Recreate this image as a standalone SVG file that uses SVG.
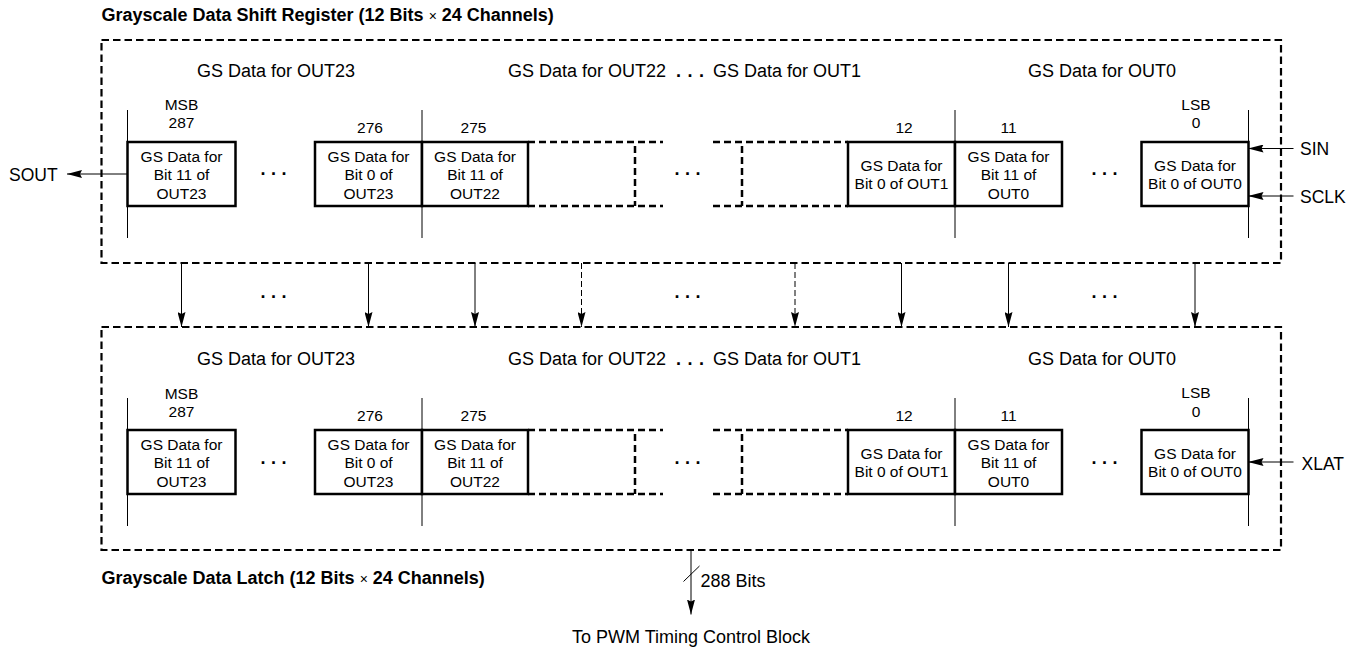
<svg xmlns="http://www.w3.org/2000/svg" width="1364" height="650" viewBox="0 0 1364 650">
<style>
text { font-family: "Liberation Sans", Arial, Helvetica, sans-serif; fill: #000; }
.title { font-size: 18px; font-weight: bold; }
.times { font-weight: normal; font-size: 14px; }
.lbl { font-size: 18px; }
.mid { text-anchor: middle; }
.bx { font-size: 15.5px; text-anchor: middle; }
.num { font-size: 15.5px; text-anchor: middle; }
.side { font-size: 17.5px; }
.dots { font-size: 18px; font-weight: bold; letter-spacing: 5.5px; }
.ldots { font-size: 18px; font-weight: bold; letter-spacing: 6.5px; }
.box { fill: #fff; stroke: #000; stroke-width: 2.5; }
.thin { fill: none; stroke: #000; stroke-width: 1; }
.dash { fill: none; stroke: #000; stroke-width: 2.5; stroke-dasharray: 7 4; }
.outer { fill: none; stroke: #000; stroke-width: 2.2; stroke-dasharray: 7.5 4; }
.conn { fill: none; stroke: #000; stroke-width: 1; marker-end: url(#ah); }
.cdash { stroke-dasharray: 6 3; }
</style>
<defs>
<marker id="ah" markerUnits="userSpaceOnUse" markerWidth="15" markerHeight="8" refX="15" refY="4" orient="auto">
<path d="M0,0 L15,4 L0,8 L2,4 z" fill="#000"/>
</marker>
</defs>

<!-- Shift register block -->
<g id="shift-register">
<text class="title" x="101.5" y="21">Grayscale Data Shift Register (12 Bits <tspan class="times">×</tspan> 24 Channels)</text>
<rect class="outer" x="101.5" y="40" width="1179.5" height="223"/>
<text class="lbl mid" x="276" y="77">GS Data for OUT23</text>
<text class="lbl" x="508" y="77">GS Data for OUT22</text>
<text class="ldots" x="676" y="77">...</text>
<text class="lbl" x="713" y="77">GS Data for OUT1</text>
<text class="lbl mid" x="1102" y="77">GS Data for OUT0</text>
<line class="thin" x1="127.5" y1="110" x2="127.5" y2="238"/>
<line class="thin" x1="422" y1="110" x2="422" y2="238"/>
<line class="thin" x1="955" y1="110" x2="955" y2="238"/>
<line class="thin" x1="1248.5" y1="110" x2="1248.5" y2="238"/>
<text class="num" x="181.5" y="110">MSB</text>
<text class="num" x="181.5" y="128">287</text>
<text class="num" x="370" y="133">276</text>
<text class="num" x="473.5" y="133">275</text>
<text class="num" x="904" y="133">12</text>
<text class="num" x="1008.5" y="133">11</text>
<text class="num" x="1196" y="109.5">LSB</text>
<text class="num" x="1196" y="128">0</text>
<text class="dots" x="260.5" y="174.5">...</text>
<text class="dots" x="674.5" y="174.5">...</text>
<text class="dots" x="1091.5" y="174.5">...</text>
</g>

<g id="sr-bit287">
<rect class="box" x="127.5" y="142" width="108" height="64"/>
<text class="bx" x="181.5" y="162">GS Data for</text>
<text class="bx" x="181.5" y="180.3">Bit 11 of</text>
<text class="bx" x="181.5" y="198.7">OUT23</text>
</g>
<g id="sr-bit276">
<rect class="box" x="315" y="142" width="107" height="64"/>
<text class="bx" x="368.5" y="162">GS Data for</text>
<text class="bx" x="368.5" y="180.3">Bit 0 of</text>
<text class="bx" x="368.5" y="198.7">OUT23</text>
</g>
<g id="sr-bit275">
<rect class="box" x="422" y="142" width="106" height="64"/>
<text class="bx" x="475" y="162">GS Data for</text>
<text class="bx" x="475" y="180.3">Bit 11 of</text>
<text class="bx" x="475" y="198.7">OUT22</text>
</g>
<g id="sr-dashed-cells">
<line class="dash" x1="528" y1="142" x2="663" y2="142"/>
<line class="dash" x1="528" y1="206" x2="663" y2="206"/>
<line class="dash" x1="635" y1="146" x2="635" y2="206"/>
<line class="dash" x1="713" y1="142" x2="848" y2="142"/>
<line class="dash" x1="713" y1="206" x2="848" y2="206"/>
<line class="dash" x1="742" y1="146" x2="742" y2="206"/>
</g>
<g id="sr-bit12">
<rect class="box" x="848" y="142" width="107" height="64"/>
<text class="bx" x="901.5" y="171">GS Data for</text>
<text class="bx" x="901.5" y="188.7">Bit 0 of OUT1</text>
</g>
<g id="sr-bit11">
<rect class="box" x="955" y="142" width="107" height="64"/>
<text class="bx" x="1008.5" y="162">GS Data for</text>
<text class="bx" x="1008.5" y="180.3">Bit 11 of</text>
<text class="bx" x="1008.5" y="198.7">OUT0</text>
</g>
<g id="sr-bit0">
<rect class="box" x="1141.5" y="142" width="107" height="64"/>
<text class="bx" x="1195" y="171">GS Data for</text>
<text class="bx" x="1195" y="188.7">Bit 0 of OUT0</text>
</g>

<g id="sout"><text class="side" x="9" y="180.5">SOUT</text></g>
<g id="sin"><text class="side" x="1300" y="154.5">SIN</text></g>
<g id="sclk"><text class="side" x="1300" y="202.5">SCLK</text></g>
<g id="xlat"><text class="side" x="1301.5" y="469.5">XLAT</text></g>

<!-- Latch block -->
<g id="latch">
<text class="title" x="101.5" y="584">Grayscale Data Latch (12 Bits <tspan class="times">×</tspan> 24 Channels)</text>
<rect class="outer" x="101.5" y="327" width="1179.5" height="223"/>
<text class="lbl mid" x="276" y="364.5">GS Data for OUT23</text>
<text class="lbl" x="508" y="364.5">GS Data for OUT22</text>
<text class="ldots" x="676" y="364.5">...</text>
<text class="lbl" x="713" y="364.5">GS Data for OUT1</text>
<text class="lbl mid" x="1102" y="364.5">GS Data for OUT0</text>
<line class="thin" x1="127.5" y1="398" x2="127.5" y2="526"/>
<line class="thin" x1="422" y1="398" x2="422" y2="526"/>
<line class="thin" x1="955" y1="398" x2="955" y2="526"/>
<line class="thin" x1="1248.5" y1="398" x2="1248.5" y2="526"/>
<text class="num" x="181.5" y="398.5">MSB</text>
<text class="num" x="181.5" y="416.5">287</text>
<text class="num" x="370" y="421">276</text>
<text class="num" x="473.5" y="421">275</text>
<text class="num" x="904" y="421">12</text>
<text class="num" x="1008.5" y="421">11</text>
<text class="num" x="1196" y="398">LSB</text>
<text class="num" x="1196" y="416.5">0</text>
<text class="dots" x="260.5" y="464">...</text>
<text class="dots" x="674.5" y="464">...</text>
<text class="dots" x="1091.5" y="464">...</text>
</g>

<g id="la-bit287">
<rect class="box" x="127.5" y="430" width="108" height="64"/>
<text class="bx" x="181.5" y="450">GS Data for</text>
<text class="bx" x="181.5" y="468.3">Bit 11 of</text>
<text class="bx" x="181.5" y="486.7">OUT23</text>
</g>
<g id="la-bit276">
<rect class="box" x="315" y="430" width="107" height="64"/>
<text class="bx" x="368.5" y="450">GS Data for</text>
<text class="bx" x="368.5" y="468.3">Bit 0 of</text>
<text class="bx" x="368.5" y="486.7">OUT23</text>
</g>
<g id="la-bit275">
<rect class="box" x="422" y="430" width="106" height="64"/>
<text class="bx" x="475" y="450">GS Data for</text>
<text class="bx" x="475" y="468.3">Bit 11 of</text>
<text class="bx" x="475" y="486.7">OUT22</text>
</g>
<g id="la-dashed-cells">
<line class="dash" x1="528" y1="430" x2="663" y2="430"/>
<line class="dash" x1="528" y1="494" x2="663" y2="494"/>
<line class="dash" x1="635" y1="434" x2="635" y2="494"/>
<line class="dash" x1="713" y1="430" x2="848" y2="430"/>
<line class="dash" x1="713" y1="494" x2="848" y2="494"/>
<line class="dash" x1="742" y1="434" x2="742" y2="494"/>
</g>
<g id="la-bit12">
<rect class="box" x="848" y="430" width="107" height="64"/>
<text class="bx" x="901.5" y="459">GS Data for</text>
<text class="bx" x="901.5" y="476.7">Bit 0 of OUT1</text>
</g>
<g id="la-bit11">
<rect class="box" x="955" y="430" width="107" height="64"/>
<text class="bx" x="1008.5" y="450">GS Data for</text>
<text class="bx" x="1008.5" y="468.3">Bit 11 of</text>
<text class="bx" x="1008.5" y="486.7">OUT0</text>
</g>
<g id="la-bit0">
<rect class="box" x="1141.5" y="430" width="107" height="64"/>
<text class="bx" x="1195" y="459">GS Data for</text>
<text class="bx" x="1195" y="476.7">Bit 0 of OUT0</text>
</g>

<g id="pwm-output">
<text class="lbl" x="700.5" y="586.5">288 Bits</text>
<text class="lbl mid" x="691" y="643">To PWM Timing Control Block</text>
</g>

<!-- Connectors -->
<g id="connectors">
<line class="conn" x1="127.5" y1="174" x2="67" y2="174"/>
<line class="conn" x1="1293.5" y1="148.5" x2="1248.5" y2="148.5"/>
<line class="conn" x1="1293.5" y1="196" x2="1248.5" y2="196"/>
<line class="conn" x1="1293.5" y1="462" x2="1248.5" y2="462"/>
<line class="conn" x1="181.5" y1="263" x2="181.5" y2="327"/>
<line class="conn" x1="368.5" y1="263" x2="368.5" y2="327"/>
<line class="conn" x1="475" y1="263" x2="475" y2="327"/>
<line class="conn cdash" x1="581.5" y1="263" x2="581.5" y2="327"/>
<line class="conn cdash" x1="795" y1="263" x2="795" y2="327"/>
<line class="conn" x1="901.5" y1="263" x2="901.5" y2="327"/>
<line class="conn" x1="1008.5" y1="263" x2="1008.5" y2="327"/>
<line class="conn" x1="1195" y1="263" x2="1195" y2="327"/>
<text class="dots" x="260.5" y="298">...</text>
<text class="dots" x="674.5" y="298">...</text>
<text class="dots" x="1091.5" y="298">...</text>
<line class="conn" x1="691" y1="550" x2="691" y2="614.5"/>
<line class="thin" x1="683.5" y1="581.5" x2="699.5" y2="566"/>
</g>
</svg>
